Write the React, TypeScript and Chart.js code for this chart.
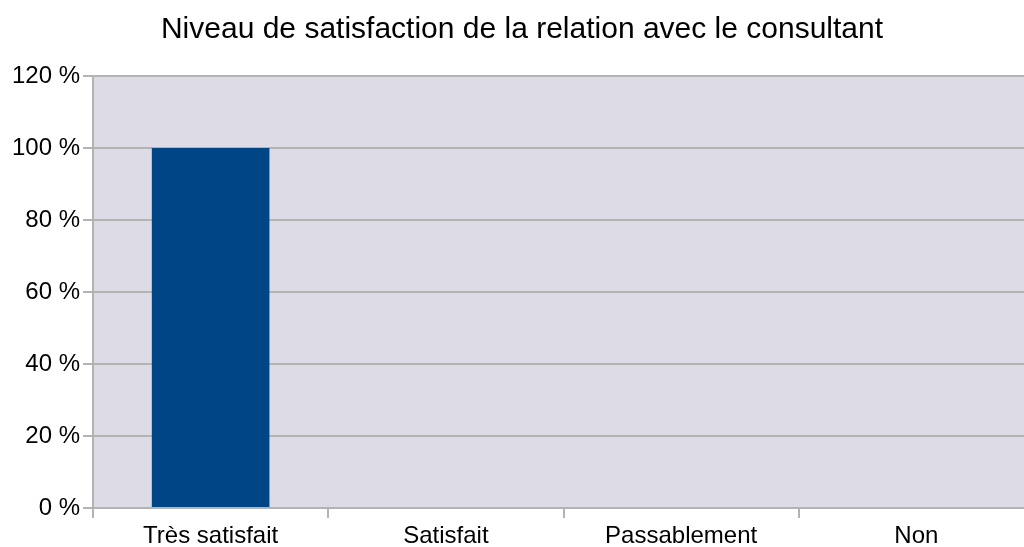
import React, { useEffect, useRef } from "react";
import { Chart, registerables } from "chart.js";

Chart.register(...registerables);

const titleText = "Niveau de satisfaction de la relation avec le consultant";
const categories = ["Très satisfait", "Satisfait", "Passablement", "Non"];
const values = [100, 0, 0, 0];
const yTickValues = [0, 20, 40, 60, 80, 100, 120];
const yTickLabels = ["0 %", "20 %", "40 %", "60 %", "80 %", "100 %", "120 %"];

const FONT = "'Liberation Sans', Arial, sans-serif";
const GRID = "#b3b3b3";

const plotBg = {
  id: "plotBg",
  beforeDraw(chart: any) {
    const { ctx, chartArea } = chart;
    if (!chartArea) return;
    ctx.save();
    ctx.fillStyle = "#dddbe6";
    ctx.fillRect(chartArea.left, chartArea.top, chartArea.right - chartArea.left, chartArea.bottom - chartArea.top);
    ctx.restore();
  },
};

export default function App() {
  const ref = useRef<HTMLCanvasElement | null>(null);
  useEffect(() => {
    document.body.style.margin = "0";
    document.body.style.overflow = "hidden";
    const chart = new Chart(ref.current as HTMLCanvasElement, {
      type: "bar",
      data: {
        labels: categories,
        datasets: [
          {
            data: values,
            backgroundColor: "#004586",
            borderWidth: 0,
            barPercentage: 0.5,
            categoryPercentage: 1,
          },
        ],
      },
      options: {
        animation: false,
        responsive: false,
        maintainAspectRatio: false,
        layout: { padding: { left: 10, right: 9, top: 0, bottom: 0 } },
        plugins: {
          legend: { display: false },
          tooltip: { enabled: false },
          title: {
            display: true,
            text: titleText,
            color: "#000",
            font: { family: FONT, size: 30, weight: "normal", lineHeight: 1.2 },
            padding: { top: 12, bottom: 28 },
          },
        },
        scales: {
          x: {
            afterFit(scale: any) {
              scale.height = 39;
            },
            grid: {
              display: true,
              offset: true,
              drawOnChartArea: false,
              drawTicks: true,
              tickLength: 10,
              color: GRID,
              lineWidth: 2,
            },
            border: { display: true, color: GRID, width: 2 },
            ticks: {
              color: "#000",
              font: { family: FONT, size: 24, lineHeight: 1.1 },
              padding: 5,
              maxRotation: 0,
              autoSkip: false,
            },
          },
          y: {
            min: 0,
            max: 120,
            afterBuildTicks(scale: any) {
              scale.ticks = yTickValues.map((v) => ({ value: v }));
            },
            afterFit(scale: any) {
              scale.width = 83;
            },
            grid: {
              color: GRID,
              lineWidth: 2,
              drawTicks: true,
              tickLength: 10,
            },
            border: { display: true, color: GRID, width: 2 },
            ticks: {
              color: "#000",
              font: { family: FONT, size: 24 },
              padding: 3,
              callback: (v: any) => {
                const i = yTickValues.indexOf(Number(v));
                return i >= 0 ? yTickLabels[i] : "";
              },
            },
          },
        },
      },
      plugins: [plotBg],
    });
    return () => chart.destroy();
  }, []);
  return (
    <div style={{ width: 1024, height: 547, overflow: "hidden" }}>
      <canvas ref={ref} width={1043} height={547} style={{ display: "block", width: 1043, height: 547 }} />
    </div>
  );
}
